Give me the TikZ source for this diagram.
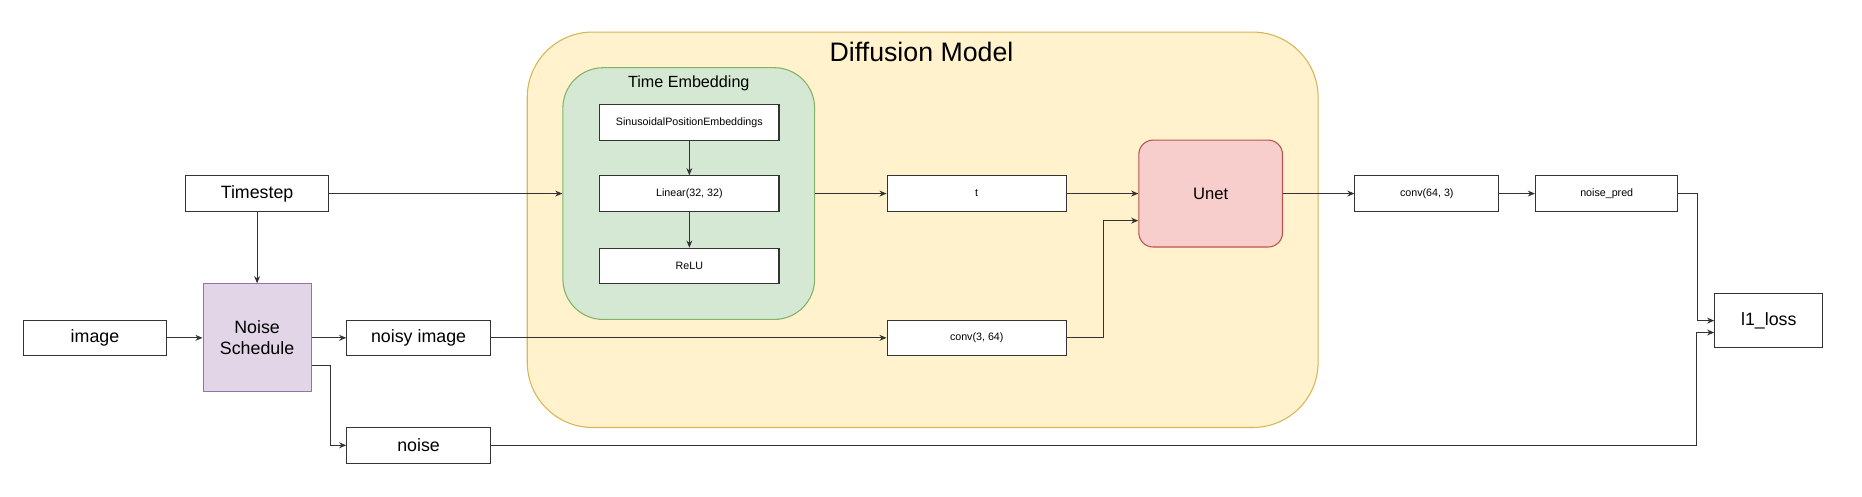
\documentclass[tikz,border=0pt]{standalone}
\usepackage{fontspec}
\setmainfont{Liberation Sans}
\usepackage{tikz}
\usetikzlibrary{arrows.meta,positioning}

\definecolor{dmfill}{HTML}{FFF2CC}
\definecolor{dmline}{HTML}{D6B656}
\definecolor{tefill}{HTML}{D5E8D4}
\definecolor{teline}{HTML}{82B366}
\definecolor{unfill}{HTML}{F8CECC}
\definecolor{unline}{HTML}{B85450}
\definecolor{nsfill}{HTML}{E1D5E7}
\definecolor{nsline}{HTML}{9673A6}

\begin{document}
\begin{tikzpicture}[x=1pt, y=-1pt,
        box/.style = {draw=black!80, fill=white, line width=0.9pt, inner sep=0pt,
                      minimum width=121pt, minimum height=30pt, font=\fontsize{15}{18}\selectfont},
        sbox/.style = {box, minimum width=151pt, font=\fontsize{9}{11}\selectfont},
        grp/.style = {line width=0.9pt, inner sep=0pt},
        arr/.style = {-{Stealth[length=6pt,width=5pt]}, line width=0.9pt, draw=black!80},
        ]
        \useasboundingbox (0,0) rectangle (1568,418);
        % containers
        \node[grp, draw=dmline, fill=dmfill, rounded corners=55pt,
              minimum width=666pt, minimum height=333pt](diff) at (777,193.5) {};
        \node(difftitle) at (776,44) {\fontsize{22.5}{26}\selectfont Diffusion Model};
        \node[grp, draw=teline, fill=tefill, rounded corners=34pt,
              minimum width=212pt, minimum height=212pt](temb) at (580,163) {};
        \node(tembtitle) at (580,70) {\fontsize{13.6}{16}\selectfont Time Embedding};
        % inputs
        \node[box](timestep) at (216.5,163) {Timestep};
        \node[box](image) at (80,284.5) {image};
        \node[box, draw=nsline, fill=nsfill, minimum width=91pt, minimum height=91pt,
              align=center](noisesched) at (216.5,284.5) {Noise\\Schedule};
        \node[box](noisyimg) at (352.5,284.5) {noisy image};
        \node[box](noise) at (352.5,375) {noise};
        % time embedding
        \node[sbox](sinus) at (580.5,103) {SinusoidalPositionEmbeddings};
        \node[sbox](linear) at (580.5,163) {Linear(32, 32)};
        \node[sbox](relu) at (580.5,224) {ReLU};
        % model
        \node[sbox](t) at (822.5,163) {t};
        \node[sbox](convin) at (822.5,284.5) {conv(3, 64)};
        \node[box, draw=unline, fill=unfill, rounded corners=12pt, minimum height=90pt,
              font=\fontsize{14}{17}\selectfont](unet) at (1019.5,163) {Unet};
        % outputs
        \node[sbox, minimum width=121pt](convout) at (1201.5,163) {conv(64, 3)};
        \node[sbox, minimum width=120pt](noisepred) at (1353,163) {noise\_pred};
        \node[box, minimum width=91pt, minimum height=45pt](loss) at (1489.5,270) {l1\_loss};
        \coordinate(lossin) at ([yshift=-10pt]loss.west);
        % connectors
        \draw[arr] (timestep) -- (temb);
        \draw[arr] (timestep) -- (noisesched);
        \draw[arr] (image) -- (noisesched);
        \draw[arr] (noisesched) -- (noisyimg);
        \draw[arr] ([yshift=-23pt]noisesched.east) -- ++(15.5,0) |- (noise);
        \draw[arr] (sinus) -- (linear);
        \draw[arr] (linear) -- (relu);
        \draw[arr] (noisyimg) -- (convin);
        \draw[arr] (temb) -- (t);
        \draw[arr] (t) -- (unet);
        \draw[arr] (convin.east) -- ++(30.5,0) |- ([yshift=-22.8pt]unet.west);
        \draw[arr] (unet) -- (convout);
        \draw[arr] (convout) -- (noisepred);
        \draw[arr] (noisepred.east) -- ++(15.8,0) |- (loss.west);
        \draw[arr] (noise.east) -| ([xshift=-15.2pt]lossin) -- (lossin);
\end{tikzpicture}
\end{document}
